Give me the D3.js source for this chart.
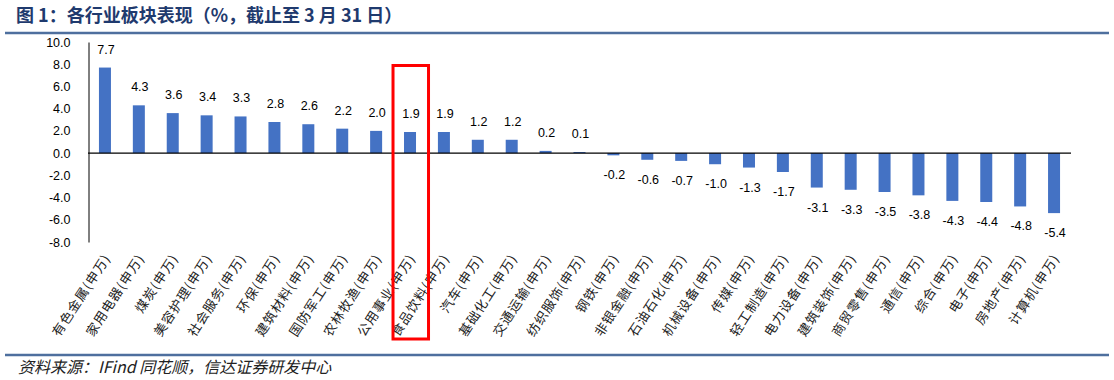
<!DOCTYPE html>
<html>
<head>
<meta charset="utf-8">
<script src="https://cdn.jsdelivr.net/npm/d3@7"></script>
<style>
  body { margin: 0; background: #fff; }
  svg { display: block; }
</style>
</head>
<body>
<svg id="svg" width="1114" height="380"></svg>
<script>
const w = 1114;
const h = 380;

const categories = ["有色金属", "家用电器", "煤炭", "美容护理", "社会服务", "环保", "建筑材料", "国防军工", "农林牧渔", "公用事业",
  "食品饮料", "汽车", "基础化工", "交通运输", "纺织服饰", "钢铁", "非银金融", "石油石化", "机械设备", "传媒",
  "轻工制造", "电力设备", "建筑装饰", "商贸零售", "通信", "综合", "电子", "房地产", "计算机"];
const values = [7.7, 4.3, 3.6, 3.4, 3.3, 2.8, 2.6, 2.2, 2.0, 1.9,
  1.9, 1.2, 1.2, 0.2, 0.1, -0.2, -0.6, -0.7, -1.0, -1.3,
  -1.7, -3.1, -3.3, -3.5, -3.8, -4.3, -4.4, -4.8, -5.4];
const yTicks = [10, 8, 6, 4, 2, 0, -2, -4, -6, -8];
const highlight = "公用事业";

const titleText = "图 1：各行业板块表现（%，截止至 3 月 31 日）";
const sourceText = "资料来源：IFind 同花顺，信达证券研发中心";

const data = categories.map((c, i) => ({ name: c, value: values[i] }));

// plain hyphen instead of the unicode minus d3 puts in
const fmt = (v) => d3.format(".1f")(v).replace("−", "-");

let svg = d3.select("#svg");

let xScale = d3.scaleBand(categories, [88, 1071]).padding(0);
let yScale = d3.scaleLinear([-8, 10], [242, 42]);
const barW = 12;
const cx = (d) => xScale(d) + xScale.bandwidth() / 2;

// title + rules
svg.append("text")
  .attr("x", 16)
  .attr("y", 22)
  .attr("font-family", "'Noto Sans CJK SC', sans-serif")
  .attr("font-size", 18)
  .attr("font-weight", "bold")
  .attr("fill", "#1f3a6e")
  .text(titleText);

svg.append("line")
  .attr("x1", 5).attr("x2", 1109)
  .attr("y1", 33).attr("y2", 33)
  .attr("stroke", "#4e6f9e")
  .attr("stroke-width", 2.5);

svg.append("line")
  .attr("x1", 5).attr("x2", 1109)
  .attr("y1", 355).attr("y2", 355)
  .attr("stroke", "#4e6f9e")
  .attr("stroke-width", 2.5);

svg.append("text")
  .attr("x", 18)
  .attr("y", 373)
  .attr("font-family", "'Noto Sans CJK SC', sans-serif")
  .attr("font-size", 16)
  .attr("font-style", "italic")
  .attr("fill", "#222")
  .text(sourceText);

// y axis
let yAxis = d3.axisLeft(yScale)
  .tickValues(yTicks)
  .tickSize(0)
  .tickPadding(18)
  .tickFormat(fmt);

let yg = svg.append("g")
  .attr("transform", "translate(88.5,0)")
  .call(yAxis);
yg.select(".domain").attr("stroke", "#000");
yg.selectAll("text")
  .attr("font-family", "'Liberation Sans', Arial, sans-serif")
  .attr("font-size", 12.5)
  .attr("fill", "#000");

// bars
svg.selectAll(".bar")
  .data(data)
  .enter()
  .append("rect")
  .attr("class", "bar")
  .attr("x", (d) => cx(d.name) - barW / 2)
  .attr("y", (d) => yScale(Math.max(0, d.value)))
  .attr("width", barW)
  .attr("height", (d) => Math.abs(yScale(d.value) - yScale(0)))
  .attr("fill", "#4472c4");

// zero line
svg.append("line")
  .attr("x1", 88).attr("x2", 1071)
  .attr("y1", yScale(0)).attr("y2", yScale(0))
  .attr("stroke", "#000")
  .attr("stroke-width", 1.2);

// value labels
svg.selectAll(".val")
  .data(data)
  .enter()
  .append("text")
  .attr("class", "val")
  .attr("x", (d) => cx(d.name) + 1)
  .attr("y", (d) => d.value >= 0 ? yScale(d.value) - 14 : yScale(d.value) + 24)
  .attr("text-anchor", "middle")
  .attr("font-family", "'Liberation Sans', Arial, sans-serif")
  .attr("font-size", 12.5)
  .attr("fill", "#000")
  .text((d) => fmt(d.value));

// category labels
svg.selectAll(".cat")
  .data(data)
  .enter()
  .append("text")
  .attr("class", "cat")
  .attr("transform", (d) => `translate(${cx(d.name) + 6},${258}) rotate(-57)`)
  .attr("text-anchor", "end")
  .attr("font-family", "'Noto Sans CJK SC', sans-serif")
  .attr("font-size", 13)
  .attr("letter-spacing", 1)
  .attr("fill", "#222")
  .text((d) => d.name + "(申万)");

// highlight box
svg.append("rect")
  .attr("x", cx(highlight) - 17)
  .attr("y", 65.5)
  .attr("width", 35.5)
  .attr("height", 273.5)
  .attr("fill", "none")
  .attr("stroke", "#ff0000")
  .attr("stroke-width", 3);
</script>
</body>
</html>
